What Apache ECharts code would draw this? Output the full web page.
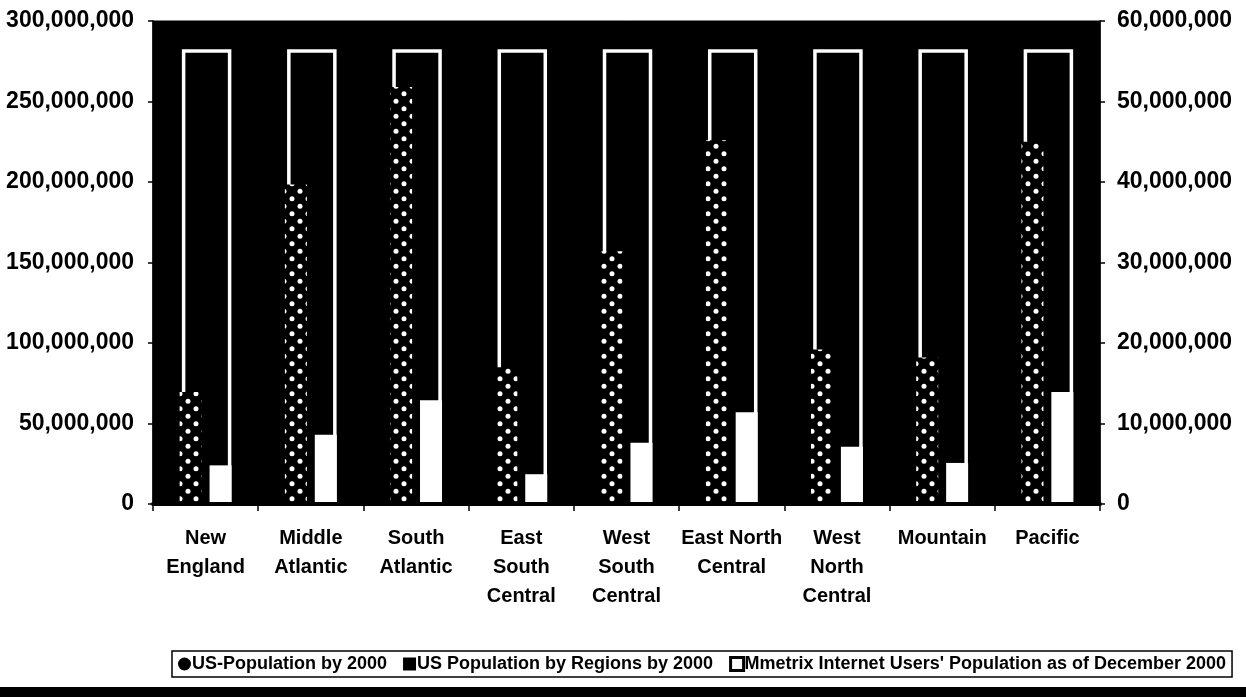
<!DOCTYPE html>
<html>
<head>
<meta charset="UTF-8">
<title>US regions population</title>
<script src="https://cdn.jsdelivr.net/npm/echarts@6/dist/echarts.min.js"></script>
<style>
  body { margin: 0; background: #fff; }
  #chart { width: 1246px; height: 697px; }
</style>
</head>
<body>
<div id="chart"></div>
<script>
// categories (census regions)
var regions = ['New\nEngland', 'Middle\nAtlantic', 'South\nAtlantic', 'East\nSouth\nCentral',
  'West\nSouth\nCentral', 'East North\nCentral', 'West\nNorth\nCentral', 'Mountain', 'Pacific'];
// left axis: total US population, same for every region
var usTotal = [281400000, 281400000, 281400000, 281400000, 281400000, 281400000, 281400000, 281400000, 281400000];
// right axis: population by region
var regionPop = [13900000, 39700000, 51800000, 17000000, 31400000, 45200000, 19200000, 18200000, 45000000];
// right axis: internet users by region
var netUsers = [4800000, 8600000, 12900000, 3700000, 7600000, 11400000, 7100000, 5100000, 13900000];

var names = ['US-Population by 2000', 'US Population by Regions by 2000',
  "Mmetrix Internet Users' Population as of December 2000"];

// black with white dots, for the region bars
var pat = document.createElement('canvas');
pat.width = 16; pat.height = 15;
var c = pat.getContext('2d');
c.fillStyle = '#000'; c.fillRect(0, 0, 16, 15);
c.fillStyle = '#fff';
[[4, 3.75], [12, 11.25]].forEach(function (p) {
  c.beginPath(); c.arc(p[0], p[1], 2.5, 0, Math.PI * 2); c.fill();
});

var font = 'Liberation Sans';
function fmt(v) { return Number(v).toLocaleString('en-US'); }

// total population drawn as an open white frame (no bottom edge)
function drawFrame(params, api) {
  var i = api.value(0);
  var top = api.coord([i, api.value(1)]);
  var base = api.coord([i, 0]);
  var half = 23;
  var x = top[0] + 1;
  return {
    type: 'polyline',
    shape: { points: [[x - half, base[1]], [x - half, top[1]], [x + half, top[1]], [x + half, base[1]]] },
    style: { stroke: '#fff', lineWidth: 3.5, fill: null }
  };
}

var myChart = echarts.init(document.getElementById('chart'));
var option = {
  animation: false,
  textStyle: { fontFamily: font },
  grid: {
    left: 153, right: 146, top: 21, bottom: 193,
    show: true, backgroundColor: '#000', borderColor: '#000', borderWidth: 1
  },
  legend: {
    left: 172, top: 651,
    padding: [4, 6],
    itemGap: 16, itemWidth: 13, itemHeight: 13,
    borderColor: '#000', borderWidth: 1.5, backgroundColor: '#fff',
    textStyle: { fontFamily: font, fontWeight: 'bold', fontSize: 18, color: '#000', padding: [0, 0, 0, -4] },
    selectedMode: false,
    data: [
      { name: names[0], icon: 'circle', itemStyle: { color: '#000', borderWidth: 0 }, itemWidth: 6, itemHeight: 6 },
      { name: names[1], icon: 'rect', itemStyle: { color: '#000', borderWidth: 0 } },
      { name: names[2], icon: 'rect', itemStyle: { color: '#fff', borderColor: '#000', borderWidth: 3 } }
    ]
  },
  xAxis: {
    type: 'category',
    data: regions,
    z: 10,
    axisLine: { lineStyle: { color: '#000', width: 4 } },
    axisTick: { show: true, length: 7, lineStyle: { color: '#000', width: 1.5 } },
    axisLabel: {
      interval: 0, margin: 20, color: '#000',
      fontFamily: font, fontWeight: 'bold', fontSize: 20, lineHeight: 29
    }
  },
  yAxis: [{
    type: 'value', min: 0, max: 300000000, interval: 50000000,
    splitLine: { show: false },
    axisLine: { show: true, lineStyle: { color: '#000', width: 1.5 } },
    axisTick: { show: true, length: 5, lineStyle: { color: '#000', width: 1.5 } },
    axisLabel: { margin: 19, color: '#000', fontFamily: font, fontWeight: 'bold', fontSize: 23, formatter: fmt }
  }, {
    type: 'value', min: 0, max: 60000000, interval: 10000000,
    splitLine: { show: false },
    axisLine: { show: true, lineStyle: { color: '#000', width: 1.5 } },
    axisTick: { show: true, length: 5, lineStyle: { color: '#000', width: 1.5 } },
    axisLabel: { margin: 17, color: '#000', fontFamily: font, fontWeight: 'bold', fontSize: 23, formatter: fmt }
  }],
  series: [{
    name: names[0], type: 'custom', yAxisIndex: 0, z: 1,
    renderItem: drawFrame,
    encode: { x: 0, y: 1 },
    data: usTotal.map(function (v, i) { return [i, v]; }),
    itemStyle: { color: '#000' }
  }, {
    name: names[1], type: 'bar', yAxisIndex: 1,
    data: regionPop, barWidth: 22, barGap: '36%', z: 3,
    itemStyle: { color: { image: pat, repeat: 'repeat' } },
    emphasis: { disabled: true }
  }, {
    name: names[2], type: 'bar', yAxisIndex: 1,
    data: netUsers, barWidth: 22, z: 3,
    itemStyle: { color: '#fff' },
    emphasis: { disabled: true }
  }],
  graphic: [{
    type: 'rect', left: 0, top: 687, z: 0,
    shape: { width: 1246, height: 10 },
    style: { fill: '#000' }
  }]
};
myChart.setOption(option);
</script>
</body>
</html>
